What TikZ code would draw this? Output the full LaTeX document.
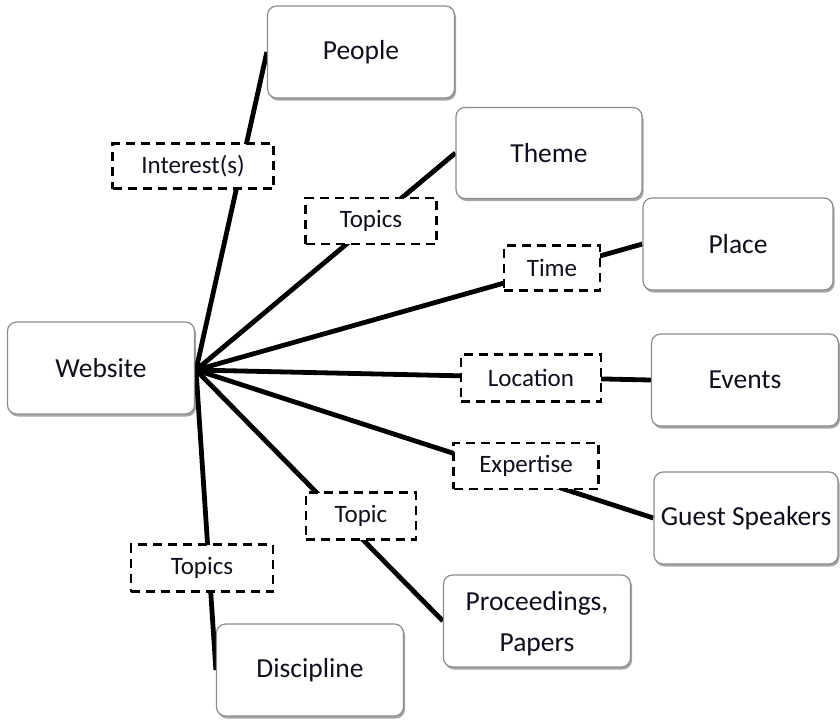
\documentclass[tikz,border=0pt]{standalone}
\usepackage{fontspec}
\setmainfont{Carlito}
\usetikzlibrary{shadows,backgrounds}
\definecolor{txt}{RGB}{15,15,30}
\definecolor{bord}{RGB}{140,140,140}
\begin{document}
\begin{tikzpicture}[x=1pt,y=-1pt,
 box/.style={draw=bord, line width=1.2pt, rounded corners=9pt, fill=white,
   minimum width=187pt, minimum height=92pt, inner sep=0pt, text=txt,
   font=\fontsize{27.5}{41}\selectfont, align=center,
   drop shadow={shadow xshift=1.5pt, shadow yshift=-2.5pt, opacity=0.35, fill=black}},
 lab/.style={draw=black, dash pattern=on 9pt off 6pt, line width=2.6pt, fill=white,
   inner sep=0pt, text=txt, font=\fontsize{25}{30}\selectfont},
 conn/.style={line width=4.8pt, black}]
\useasboundingbox (0,0) rectangle (840,721);

% boxes
\node[box] (web) at (101,368) {Website};
\node[box] (people) at (361,52) {People};
\node[box, minimum width=186pt, minimum height=91pt] (theme) at (549,153) {Theme};
\node[box, minimum width=190pt] (place) at (738,244) {Place};
\node[box] (events) at (745,380) {Events};
\node[box, minimum width=184pt] (guest) at (746,518) {Guest Speakers};
\node[box, text depth=-4pt] (proc) at (537,621) {Proceedings,\\Papers};
\node[box] (disc) at (310,670) {Discipline};

% dashed labels
\node[lab, minimum width=161pt, minimum height=45pt] (interest) at (193,166) {Interest(s)};
\node[lab, minimum width=131pt, minimum height=46pt] (topicsA) at (371,221) {Topics};
\node[lab, minimum width=96pt, minimum height=45pt] (time) at (552,268) {Time};
\node[lab, minimum width=140pt, minimum height=47pt] (loc) at (531,378) {Location};
\node[lab, minimum width=145pt, minimum height=46pt] (exp) at (526,466) {Expertise};
\node[lab, minimum width=110pt, minimum height=47pt] (topic) at (361,516) {Topic};
\node[lab, minimum width=142pt, minimum height=47pt] (topicsB) at (202,568) {Topics};

\coordinate (hub) at (196,370);

\begin{pgfonlayer}{background}
\fill[white] (0,0) rectangle (840,721);
\draw[conn] (hub) -- (people.west);
\draw[conn] (hub) -- (theme.west);
\draw[conn] (hub) -- (place.west);
\draw[conn] (hub) -- (events.west);
\draw[conn] (hub) -- (guest.west);
\draw[conn] (hub) -- (proc.west);
\draw[conn] (hub) -- (disc.west);
\end{pgfonlayer}
\end{tikzpicture}
\end{document}
